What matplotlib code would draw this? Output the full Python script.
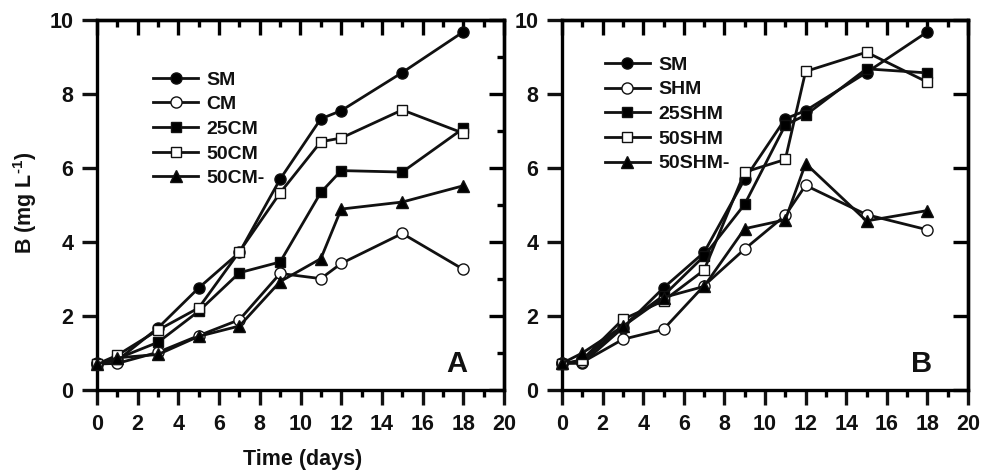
#!/usr/bin/env python3
"""Boron concentration over time for the SM/CM and SM/SHM treatments (panels A and B)."""

import matplotlib

matplotlib.use("Agg")
import matplotlib.pyplot as plt
import numpy as np

# sampling days, shared by every series
DAYS = [0, 1, 3, 5, 7, 9, 11, 12, 15, 18]

# panel A
SM = [0.72, 0.80, 1.68, 2.76, 3.72, 5.70, 7.33, 7.55, 8.58, 9.68]
CM = [0.70, 0.72, 1.02, 1.47, 1.90, 3.15, 3.01, 3.42, 4.23, 3.26]
CM25 = [0.70, 0.85, 1.29, 2.13, 3.17, 3.46, 5.34, 5.93, 5.89, 7.07]
CM50 = [0.70, 0.94, 1.62, 2.22, 3.74, 5.33, 6.71, 6.81, 7.57, 6.94]
CM50M = [0.70, 0.87, 0.96, 1.45, 1.73, 2.93, 3.55, 4.89, 5.08, 5.52]

# panel B
SM_B = [0.72, 0.72, 1.68, 2.76, 3.72, 5.70, 7.33, 7.55, 8.58, 9.68]
SHM = [0.72, 0.75, 1.37, 1.64, 2.82, 3.81, 4.72, 5.53, 4.74, 4.33]
SHM25 = [0.70, 0.80, 1.75, 2.55, 3.62, 5.02, 7.16, 7.43, 8.68, 8.57]
SHM50 = [0.70, 0.82, 1.91, 2.41, 3.24, 5.89, 6.23, 8.61, 9.13, 8.32]
SHM50M = [0.72, 1.00, 1.72, 2.50, 2.80, 4.36, 4.60, 6.12, 4.57, 4.85]

LABELS_A = ["SM", "CM", "25CM", "50CM", "50CM-"]
LABELS_B = ["SM", "SHM", "25SHM", "50SHM", "50SHM-"]

# marker, face colour per series position
STYLES = [("o", "black"), ("o", "white"), ("s", "black"), ("s", "white"), ("^", "black")]
MSIZE = {"o": 8.0, "s": 7.4, "^": 8.6}

plt.rcParams["font.family"] = ["Liberation Sans", "DejaVu Sans"]
plt.rcParams["font.weight"] = "bold"
plt.rcParams["mathtext.fontset"] = "custom"
plt.rcParams["mathtext.rm"] = "Liberation Sans:bold"
plt.rcParams["mathtext.default"] = "rm"
plt.rcParams["axes.linewidth"] = 2.4
plt.rcParams["text.color"] = "#111111"


def style_axes(ax, right_minor):
    ax.set_xlim(0, 20)
    ax.set_ylim(0, 10)
    major_x = np.arange(0, 21, 2)
    minor_x = np.arange(1, 20, 2)
    ax.set_xticks(major_x)
    ax.set_xticks(minor_x, minor=True)
    ax.set_yticks(np.arange(0, 11, 2))
    ax.tick_params(axis="both", which="major", direction="out", length=11, width=2.4,
                   labelsize=15.5, pad=6, colors="#111111")
    ax.tick_params(axis="x", which="minor", direction="out", length=5, width=2.4)
    ax.tick_params(top=False, right=False)

    top = ax.secondary_xaxis("top")
    top.set_xticks(major_x)
    top.set_xticks(minor_x, minor=True)
    top.tick_params(axis="x", which="major", direction="in", length=11, width=2.4, labeltop=False)
    top.tick_params(axis="x", which="minor", direction="in", length=5, width=2.4)
    top.spines["top"].set_linewidth(2.4)

    right = ax.secondary_yaxis("right")
    right.set_yticks(np.arange(0, 11, 2))
    if right_minor:
        right.set_yticks(np.arange(1, 10, 2), minor=True)
    right.tick_params(axis="y", which="major", direction="in", length=11, width=2.4, labelright=False)
    right.tick_params(axis="y", which="minor", direction="in", length=5, width=2.4)
    right.spines["right"].set_linewidth(2.4)


def draw_panel(ax, series, labels, anchor, letter):
    for ys, lab, (mk, fc) in zip(series, labels, STYLES):
        ax.plot(DAYS, ys, color="#111111", lw=2.0, marker=mk, ms=MSIZE[mk],
                mfc=fc, mec="#111111", mew=1.0, label=lab, clip_on=False, zorder=3)
    ax.legend(loc="upper left", bbox_to_anchor=anchor, frameon=False, fontsize=14,
              handlelength=2.3, handletextpad=0.45, labelspacing=0.36, borderpad=0,
              borderaxespad=0)
    ax.text(0.885, 0.07, letter, transform=ax.transAxes, fontsize=21, fontweight="bold",
            ha="center", va="center")


fig = plt.figure(figsize=(9.82, 4.72), dpi=100)
ax_a = fig.add_axes([97 / 982, 82 / 472, 407 / 982, 370 / 472])
ax_b = fig.add_axes([562 / 982, 82 / 472, 406 / 982, 370 / 472])

style_axes(ax_a, right_minor=True)
style_axes(ax_b, right_minor=False)

draw_panel(ax_a, [SM, CM, CM25, CM50, CM50M], LABELS_A, (0.138, 0.862), "A")
draw_panel(ax_b, [SM_B, SHM, SHM25, SHM50, SHM50M], LABELS_B, (0.106, 0.902), "B")

fig.text(25 / 982, 1 - 203 / 472, r"B (mg L$^{\text{-1}}$)", rotation=90, ha="center",
         va="center", fontsize=15.5, fontweight="bold")
fig.text(303 / 982, 1 - 460 / 472, "Time (days)", ha="center", va="center",
         fontsize=15.5, fontweight="bold")

fig.savefig("out.png", dpi=100)
